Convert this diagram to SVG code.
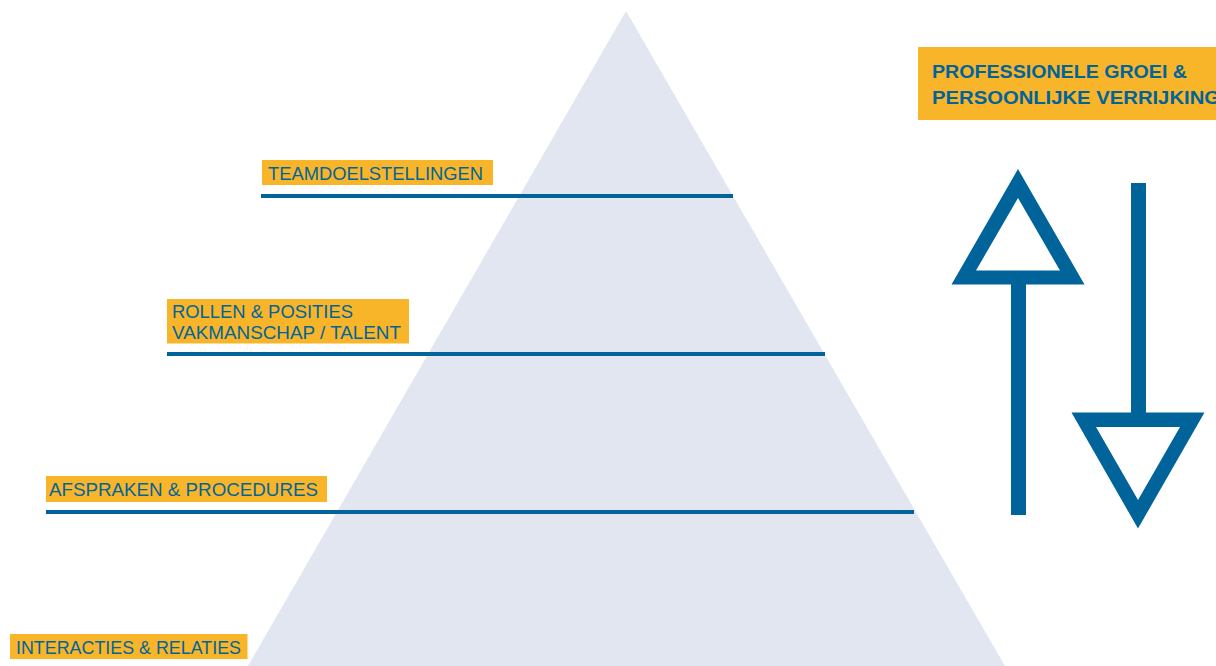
<svg xmlns="http://www.w3.org/2000/svg" width="1216" height="666" viewBox="0 0 1216 666">
  <style>
    .tag { fill: #F9B52A; }
    .lbl { fill: #00649A; font-family: "Liberation Sans", Arial, sans-serif; font-size: 19px; }
    .head { fill: #00649A; font-family: "Liberation Sans", Arial, sans-serif; font-size: 19px; font-weight: bold; }
    .rule { fill: #00649A; }
    .arrow { fill: #00649A; fill-rule: evenodd; }
  </style>
  <rect width="1216" height="666" fill="#FFFFFF"/>

  <!-- pyramid body -->
  <g id="pyramid">
    <polygon points="626,11 1005,666 248,666" fill="#E1E6F1"/>
  </g>

  <!-- level rules -->
  <g id="connectors">
    <rect class="rule" x="261" y="194" width="472" height="4"/>
    <rect class="rule" x="167" y="352" width="658" height="4"/>
    <rect class="rule" x="46" y="510" width="868" height="4"/>
  </g>

  <g id="teamdoelstellingen">
    <rect class="tag" x="262" y="160" width="231" height="25"/>
    <text class="lbl" x="268" y="179.5" textLength="215" lengthAdjust="spacingAndGlyphs">TEAMDOELSTELLINGEN</text>
  </g>

  <g id="rollen-posities">
    <rect class="tag" x="167" y="299" width="242" height="44.5"/>
    <text class="lbl" x="172" y="317.5" textLength="181" lengthAdjust="spacingAndGlyphs">ROLLEN &amp; POSITIES</text>
    <text class="lbl" x="172" y="338.5" textLength="229" lengthAdjust="spacingAndGlyphs">VAKMANSCHAP / TALENT</text>
  </g>

  <g id="afspraken-procedures">
    <rect class="tag" x="46" y="476" width="281" height="26"/>
    <text class="lbl" x="49" y="496" textLength="269" lengthAdjust="spacingAndGlyphs">AFSPRAKEN &amp; PROCEDURES</text>
  </g>

  <g id="interacties-relaties">
    <rect class="tag" x="10" y="634" width="237.5" height="25"/>
    <text class="lbl" x="16" y="654" textLength="225" lengthAdjust="spacingAndGlyphs">INTERACTIES &amp; RELATIES</text>
  </g>

  <g id="groei-verrijking">
    <rect class="tag" x="918" y="47" width="310" height="73"/>
    <text class="head" x="932" y="78" textLength="255" lengthAdjust="spacingAndGlyphs">PROFESSIONELE GROEI &amp;</text>
    <text class="head" x="932" y="103.5" textLength="288" lengthAdjust="spacingAndGlyphs">PERSOONLIJKE VERRIJKING</text>
  </g>

  <!-- upward arrow: hollow head on a shaft -->
  <g id="arrow-up">
    <path class="arrow" d="M1018,169 L1084.5,284.5 L951.5,284.5 Z M1018,198 L976,270.5 L1060,270.5 Z"/>
    <rect class="arrow" x="1011" y="284" width="15" height="231"/>
  </g>

  <!-- downward arrow: shaft ending in a hollow head -->
  <g id="arrow-down">
    <rect class="arrow" x="1131" y="183" width="15" height="230"/>
    <path class="arrow" d="M1071.5,412.5 L1204.5,412.5 L1138,528.5 Z M1096,427 L1180,427 L1138,500 Z"/>
  </g>
</svg>
